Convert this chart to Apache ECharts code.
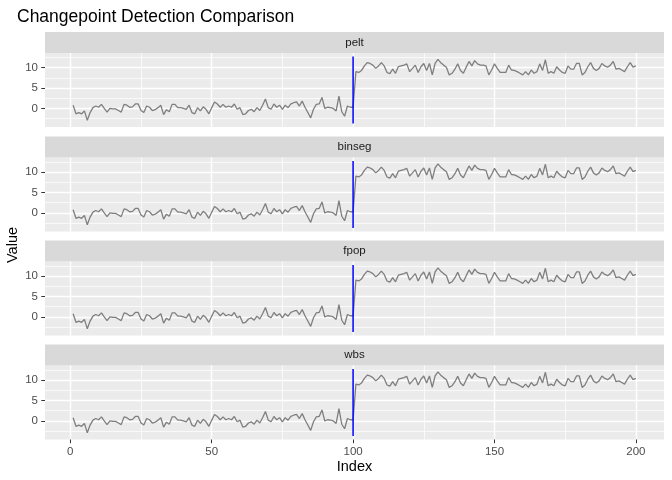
<!DOCTYPE html>
<html>
<head>
<meta charset="utf-8">
<script src="https://cdn.jsdelivr.net/npm/echarts@6/dist/echarts.min.js"></script>
<style>
  html, body { margin: 0; padding: 0; background: #fff; }
  #chart { width: 672px; height: 480px; }
</style>
</head>
<body>
<div id="chart"></div>
<script>
// series values (index 1..200)
var valuesBefore = [0.8, -1.3, -1.0, -1.3, -0.6, -2.9, -1.0, 0.2, 0.6, 0.3,
  1.0, 0.0, -0.9, 0.0, -0.1, -0.1, -0.5, -0.9, 1.0, 0.8,
  0.3, 0.4, 1.1, 1.1, -0.5, -1.0, 0.6, 0.3, -0.5, -0.3,
  0.2, 0.8, -1.5, -0.3, -0.8, 1.0, 1.0, 0.2, 0.2, 0.0,
  -0.2, 0.8, -1.0, -1.3, 0.2, -0.6, 0.4, -0.2, -1.3, 0.2,
  1.6, 1.1, 0.3, 1.0, 0.3, 0.6, 0.3, 1.1, -0.2, 0.2,
  -1.5, -1.3, -0.5, -0.2, -0.8, 0.2, -0.5, 0.8, 2.3, 0.2,
  -0.2, 1.1, 0.3, 0.8, -0.2, 0.8, 0.2, 1.1, 1.4, 1.6,
  0.6, 1.8, 0.3, -1.0, -2.3, -0.2, 1.0, 1.1, 2.7, 0.0,
  0.3, 0.2, 0.0, -0.6, 3.0, -0.8, -1.9, 0.6, 0.3, 0.3];
var valuesAfter = [9.0, 8.8, 9.3, 10.4, 11.2, 11.0, 10.6, 9.8, 10.4, 11.2,
  10.4, 8.8, 8.5, 9.6, 8.6, 10.2, 10.4, 10.6, 10.9, 9.0,
  9.8, 10.6, 8.8, 10.2, 11.0, 9.3, 11.0, 8.2, 11.0, 12.0,
  11.2, 10.6, 10.1, 8.2, 8.6, 9.6, 10.9, 9.3, 8.6, 10.1,
  11.5, 10.4, 11.7, 10.9, 10.6, 10.6, 10.4, 8.2, 9.4, 10.9,
  9.8, 8.8, 8.8, 8.8, 10.6, 9.4, 9.3, 9.0, 8.6, 8.2,
  9.0, 8.2, 9.4, 8.6, 9.0, 10.9, 9.3, 11.9, 8.6, 9.0,
  8.6, 10.2, 9.4, 8.8, 8.6, 10.4, 9.6, 9.6, 11.0, 11.0,
  8.2, 8.8, 10.2, 11.2, 9.8, 9.3, 9.8, 11.0, 10.4, 10.1,
  10.6, 11.5, 9.6, 9.8, 9.4, 9.0, 10.2, 11.2, 10.1, 10.4];

var methods = ['pelt', 'binseg', 'fpop', 'wbs'];
var changepoints = [100, 100, 100, 100];
var segmentRange = [-3.7, 12.7];

var xMajorTicks = [0, 50, 100, 150, 200];
var xMinorTicks = [25, 75, 125, 175];
var yMajorTicks = [0, 5, 10];
var yMinorTicks = [-2.5, 2.5, 7.5, 12.5];

var xRange = [-8.95, 209.95];
var yRange = [-4.53, 13.56];

var font = 'Liberation Sans, Arial, sans-serif';
var panelTops = [53, 157.5, 261.5, 365.5];
var panelHeight = 74;
var panelLeft = 45;
var panelWidth = 619;
var stripHeight = 21;

var chart = echarts.init(document.getElementById('chart'), null, { renderer: 'canvas' });

var allValues = valuesBefore.concat(valuesAfter);
var lineData = allValues.map(function (v, i) { return [i + 1, v]; });

var grids = [];
var xAxes = [];
var yAxes = [];
var series = [];
var graphics = [];

methods.forEach(function (m, p) {
  var last = p === methods.length - 1;
  grids.push({
    left: panelLeft, width: panelWidth, top: panelTops[p], height: panelHeight,
    show: true, backgroundColor: '#EBEBEB', borderWidth: 0
  });

  xAxes.push({
    type: 'value', gridIndex: p, min: xRange[0], max: xRange[1],
    axisLine: { show: false, onZero: false },
    axisTick: { show: last, length: 3.7, customValues: xMajorTicks, lineStyle: { color: '#333333', width: 1 } },
    axisLabel: { show: last, customValues: xMajorTicks, color: '#4D4D4D', fontSize: 11.5, fontFamily: font, margin: 6 },
    splitLine: { show: true, lineStyle: { color: '#FFFFFF', width: 1.4 } },
    name: last ? 'Index' : '', nameLocation: 'middle', nameGap: 20,
    nameTextStyle: { color: '#000', fontSize: 14.5, fontFamily: font }
  });
  xAxes.push({
    type: 'value', gridIndex: p, min: xRange[0], max: xRange[1],
    axisLine: { show: false, onZero: false },
    axisTick: { show: false, customValues: xMinorTicks },
    axisLabel: { show: false, customValues: xMinorTicks },
    splitLine: { show: true, lineStyle: { color: '#FFFFFF', width: 0.7 } }
  });

  yAxes.push({
    type: 'value', gridIndex: p, min: yRange[0], max: yRange[1],
    axisLine: { show: false, onZero: false },
    axisTick: { show: true, length: 3.7, customValues: yMajorTicks, lineStyle: { color: '#333333', width: 1 } },
    axisLabel: { show: true, customValues: yMajorTicks, color: '#4D4D4D', fontSize: 11.5, fontFamily: font, margin: 7 },
    splitLine: { show: true, lineStyle: { color: '#FFFFFF', width: 1.4 } }
  });
  yAxes.push({
    type: 'value', gridIndex: p, min: yRange[0], max: yRange[1],
    axisLine: { show: false, onZero: false },
    axisTick: { show: false, customValues: yMinorTicks },
    axisLabel: { show: false, customValues: yMinorTicks },
    splitLine: { show: true, lineStyle: { color: '#FFFFFF', width: 0.7 } }
  });

  series.push({
    type: 'line', xAxisIndex: p * 2, yAxisIndex: p * 2,
    data: lineData, symbol: 'none', silent: true,
    lineStyle: { color: '#7F7F7F', width: 1.3 }, z: 3
  });
  series.push({
    type: 'line', xAxisIndex: p * 2, yAxisIndex: p * 2,
    data: [[changepoints[p], segmentRange[0]], [changepoints[p], segmentRange[1]]],
    symbol: 'none', silent: true,
    lineStyle: { color: '#0000FF', width: 1.5 }, z: 4
  });

  // facet strip
  graphics.push({
    type: 'rect',
    shape: { x: panelLeft, y: panelTops[p] - stripHeight, width: panelWidth, height: stripHeight },
    style: { fill: '#D9D9D9' }, silent: true
  });
  graphics.push({
    type: 'text', x: panelLeft + panelWidth / 2, y: panelTops[p] - stripHeight / 2,
    style: { text: m, fill: '#1A1A1A', font: '11.5px ' + font, textAlign: 'center', textVerticalAlign: 'middle' },
    silent: true
  });
});

graphics.push({
  type: 'text', x: 13, y: 245, rotation: Math.PI / 2,
  style: { text: 'Value', fill: '#000', font: '14.5px ' + font, textAlign: 'center', textVerticalAlign: 'middle' },
  silent: true
});

chart.setOption({
  animation: false,
  backgroundColor: '#FFFFFF',
  title: {
    text: 'Changepoint Detection Comparison', left: 12, top: 3,
    textStyle: { color: '#000', fontSize: 17.5, fontWeight: 'normal', fontFamily: font }
  },
  grid: grids,
  xAxis: xAxes,
  yAxis: yAxes,
  series: series,
  graphic: graphics
});
</script>
</body>
</html>
